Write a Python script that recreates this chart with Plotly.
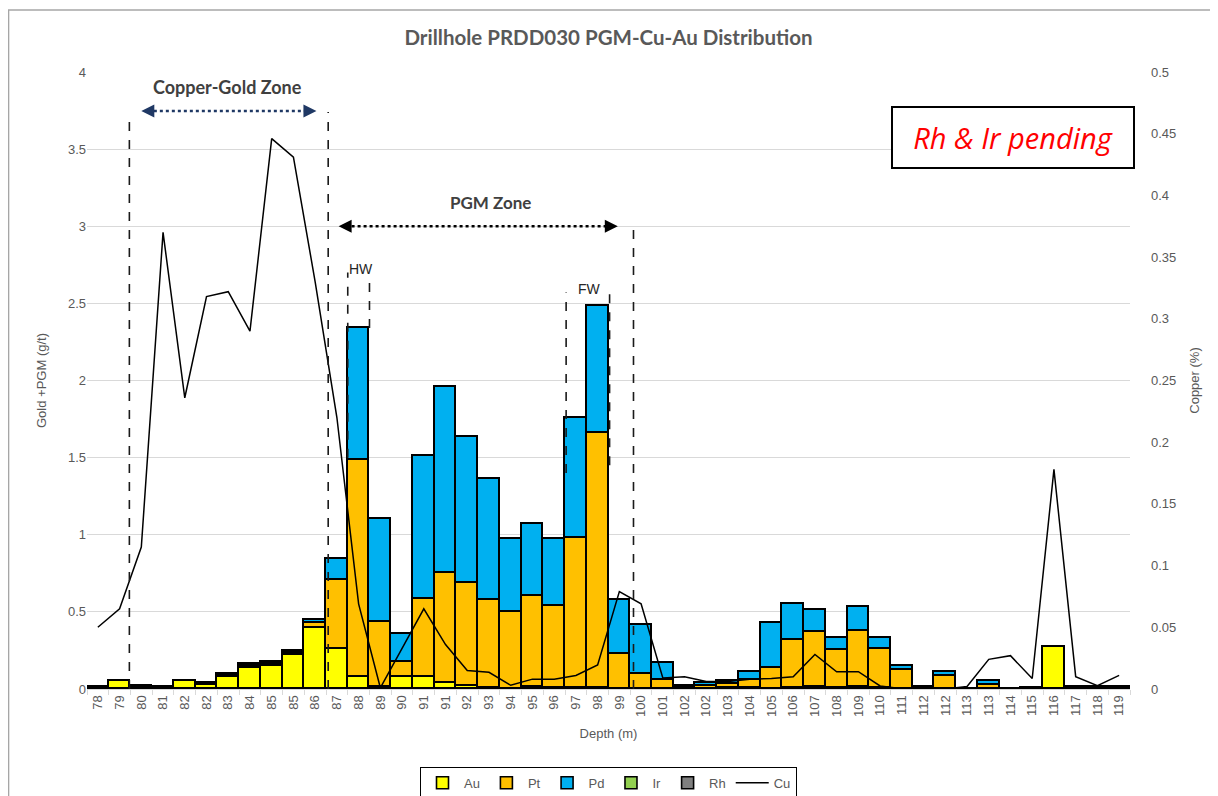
"""Drillhole PRDD030 PGM-Cu-Au distribution chart."""
import plotly.graph_objects as go

# depth labels as they appear on the axis (some repeated)
DEPTH_LABELS = [
    "78", "79", "80", "81", "82", "82", "83", "84", "85", "85", "86", "87",
    "88", "89", "90", "91", "91", "92", "93", "94", "95", "96", "97", "98",
    "99", "100", "101", "102", "102", "103", "104", "105", "106", "107", "108",
    "109", "110", "111", "112", "112", "113", "113", "114", "115", "116",
    "117", "118", "119",
]

AU = [0.005, 0.05, 0.015, 0.015, 0.054, 0.024, 0.08, 0.134, 0.15, 0.222, 0.393, 0.26,
      0.076, 0.015, 0.08, 0.08, 0.037, 0.02, 0.005, 0.002, 0.01, 0.005, 0.005, 0.005,
      0.003, 0.003, 0.003, 0.005, 0.003, 0.005, 0.005, 0.003, 0.005, 0.01, 0.005, 0.01,
      0.005, 0.003, 0.005, 0.003, 0.0, 0.003, 0.0, 0.003, 0.274, 0.005, 0.005, 0.005]

PT = [0.003, 0.003, 0.003, 0.0, 0.0, 0.008, 0.01, 0.013, 0.012, 0.013, 0.032, 0.445,
      1.409, 0.421, 0.097, 0.503, 0.713, 0.67, 0.575, 0.498, 0.595, 0.533, 0.974, 1.653,
      0.224, 0.097, 0.053, 0.008, 0.015, 0.027, 0.051, 0.135, 0.313, 0.36, 0.25, 0.364,
      0.256, 0.118, 0.003, 0.079, 0.0, 0.025, 0.0, 0.002, 0.0, 0.005, 0.005, 0.005]

PD = [0.002, 0.0, 0.002, 0.0, 0.0, 0.008, 0.01, 0.013, 0.011, 0.013, 0.022, 0.135,
      0.857, 0.668, 0.18, 0.925, 1.206, 0.944, 0.781, 0.472, 0.467, 0.434, 0.778, 0.827,
      0.348, 0.313, 0.112, 0.008, 0.02, 0.018, 0.052, 0.288, 0.231, 0.142, 0.078, 0.156,
      0.072, 0.026, 0.002, 0.026, 0.0, 0.022, 0.0, 0.002, 0.0, 0.003, 0.003, 0.003]

# Rh & Ir assays pending
IR = [0.0] * 48
RH = [0.0] * 48

CU = [0.05, 0.065, 0.115, 0.37, 0.236, 0.318, 0.322, 0.29, 0.446, 0.431, 0.33, 0.22,
      0.069, 0.001, 0.033, 0.065, 0.036, 0.015, 0.0135, 0.003, 0.008, 0.008, 0.011, 0.0195,
      0.079, 0.069, 0.009, 0.01, 0.006, 0.006, 0.008, 0.0085, 0.01, 0.028, 0.014, 0.014,
      0.0025, 0.0003, 0.0, 0.0, 0.002, 0.024, 0.027, 0.0085, 0.178, 0.01, 0.0027, 0.011]

COLORS = {"Au": "#FFFF00", "Pt": "#FFC000", "Pd": "#00B0F0", "Ir": "#92D050", "Rh": "#7F7F7F"}
GREY = "#595959"
FONT = "Liberation Sans, Arial, sans-serif"

xs = list(range(len(DEPTH_LABELS)))

fig = go.Figure()
for name, vals in [("Au", AU), ("Pt", PT), ("Pd", PD), ("Ir", IR), ("Rh", RH)]:
    fig.add_trace(go.Bar(
        x=xs, y=vals, name=name,
        marker=dict(color=COLORS[name], line=dict(color="black", width=1.6)),
        width=1.0,
    ))
fig.add_trace(go.Scatter(
    x=xs, y=CU, name="Cu", yaxis="y2", mode="lines",
    line=dict(color="black", width=1.5),
))

# zone boundaries (dashed verticals)
dash = dict(color="#1a1a1a", width=1.6, dash="dash")
for x0, y_top, y_bot in [(1.45, 3.73, 0), (10.6, 3.74, 0), (24.65, 3.03, 0),
                         (11.5, 2.70, 1.5), (12.5, 2.65, 2.34),
                         (21.55, 2.57, 1.40), (23.55, 2.61, 1.45)]:
    fig.add_shape(type="line", xref="x", yref="y", x0=x0, x1=x0, y0=y_bot, y1=y_top, line=dash)

# zone arrows
NAVY = "#1F3864"
fig.add_shape(type="line", xref="x", yref="y", x0=2.3, x1=9.75, y0=3.747, y1=3.747,
              line=dict(color=NAVY, width=2.5, dash="dot"))
fig.add_shape(type="line", xref="x", yref="y", x0=11.4, x1=23.6, y0=3.0, y1=3.0,
              line=dict(color="black", width=2.5, dash="dot"))
for x, y, ax, col in [(2.0, 3.747, 10, NAVY), (10.06, 3.747, -10, NAVY),
                      (11.08, 3.0, 10, "black"), (23.93, 3.0, -10, "black")]:
    fig.add_annotation(x=x, y=y, xref="x", yref="y", text="", showarrow=True,
                       ax=ax, ay=0, arrowhead=2, arrowsize=1.3, arrowwidth=2,
                       arrowcolor=col)

fig.add_annotation(x=5.97, y=3.90, xref="x", yref="y", text="<b>Copper-Gold Zone</b>",
                   showarrow=False, font=dict(family="Lato, sans-serif", size=18, color="#404040"))
fig.add_annotation(x=18.07, y=3.153, xref="x", yref="y", text="<b>PGM Zone</b>",
                   showarrow=False, font=dict(family="Lato, sans-serif", size=17, color="#404040"))
fig.add_annotation(x=12.1, y=2.72, xref="x", yref="y", text="HW", showarrow=False,
                   font=dict(family=FONT, size=14, color="#262626"))
fig.add_annotation(x=22.64, y=2.59, xref="x", yref="y", text="FW", showarrow=False,
                   font=dict(family=FONT, size=14, color="#262626"))

# pending note
fig.add_annotation(x=0.888, y=0.894, xref="paper", yref="paper",
                   xanchor="center", yanchor="middle",
                   text="<i>Rh &amp; Ir pending</i>", showarrow=False,
                   font=dict(family="Open Sans, sans-serif", size=29, color="#FF0000"),
                   bgcolor="white", bordercolor="black", borderwidth=2,
                   width=238, height=57)

# outer chart border (only top/left visible in the frame)
fig.add_shape(type="rect", xref="paper", yref="paper", x0=-0.0752, x1=1.1, y0=-0.2, y1=1.1005,
              line=dict(color="#a6a6a6", width=1.5), layer="below")

# page body has an 8px margin, so the figure is 8px smaller each way
fig.update_layout(
    width=1210, height=788,
    font=dict(family=FONT, color=GREY, size=13),
    plot_bgcolor="white", paper_bgcolor="white",
    margin=dict(l=79, r=88, t=64, b=107, autoexpand=False),
    title=dict(text="<b>Drillhole PRDD030 PGM-Cu-Au Distribution</b>",
               x=0.5, xref="paper", xanchor="center", y=0.962, yanchor="middle",
               font=dict(family="Lato, sans-serif", size=20.5, color=GREY)),
    barmode="stack", bargap=0,
    showlegend=True,
    legend=dict(orientation="h", x=0.5, xanchor="center", y=0.037, yref="container",
                yanchor="top",
                bordercolor="black", borderwidth=1, bgcolor="white",
                font=dict(size=13, color=GREY), itemwidth=33,
                traceorder="normal"),
    xaxis=dict(
        range=[-0.5, 47.5], tickmode="array", tickvals=xs, ticktext=DEPTH_LABELS,
        tickangle=-90, ticks="", showgrid=False, zeroline=False, automargin=False,
        showline=True, linecolor="#d9d9d9", linewidth=1,
        tickfont=dict(size=13, color=GREY),
        minor=dict(tickmode="array", tickvals=[i - 0.5 for i in range(49)],
                   ticks="outside", ticklen=5, tickcolor="#d9d9d9", showgrid=False),
        title=dict(text="Depth (m)", font=dict(size=13, color=GREY), standoff=12),
    ),
    yaxis=dict(
        range=[0, 4], dtick=0.5, showgrid=True, gridcolor="#d9d9d9", gridwidth=1,
        zeroline=False, showline=False, ticks="", automargin=False,
        tickfont=dict(size=13, color=GREY),
        title=dict(text="Gold +PGM (g/t)", font=dict(size=13, color=GREY), standoff=18),
    ),
    yaxis2=dict(
        range=[0, 0.5], dtick=0.05, overlaying="y", side="right", automargin=False,
        showgrid=False, zeroline=False, showline=False, ticks="",
        tickfont=dict(size=13, color=GREY), ticklabelstandoff=20,
        title=dict(text="Copper (%)", font=dict(size=13, color=GREY), standoff=14),
    ),
)

fig.write_html("out.html")
